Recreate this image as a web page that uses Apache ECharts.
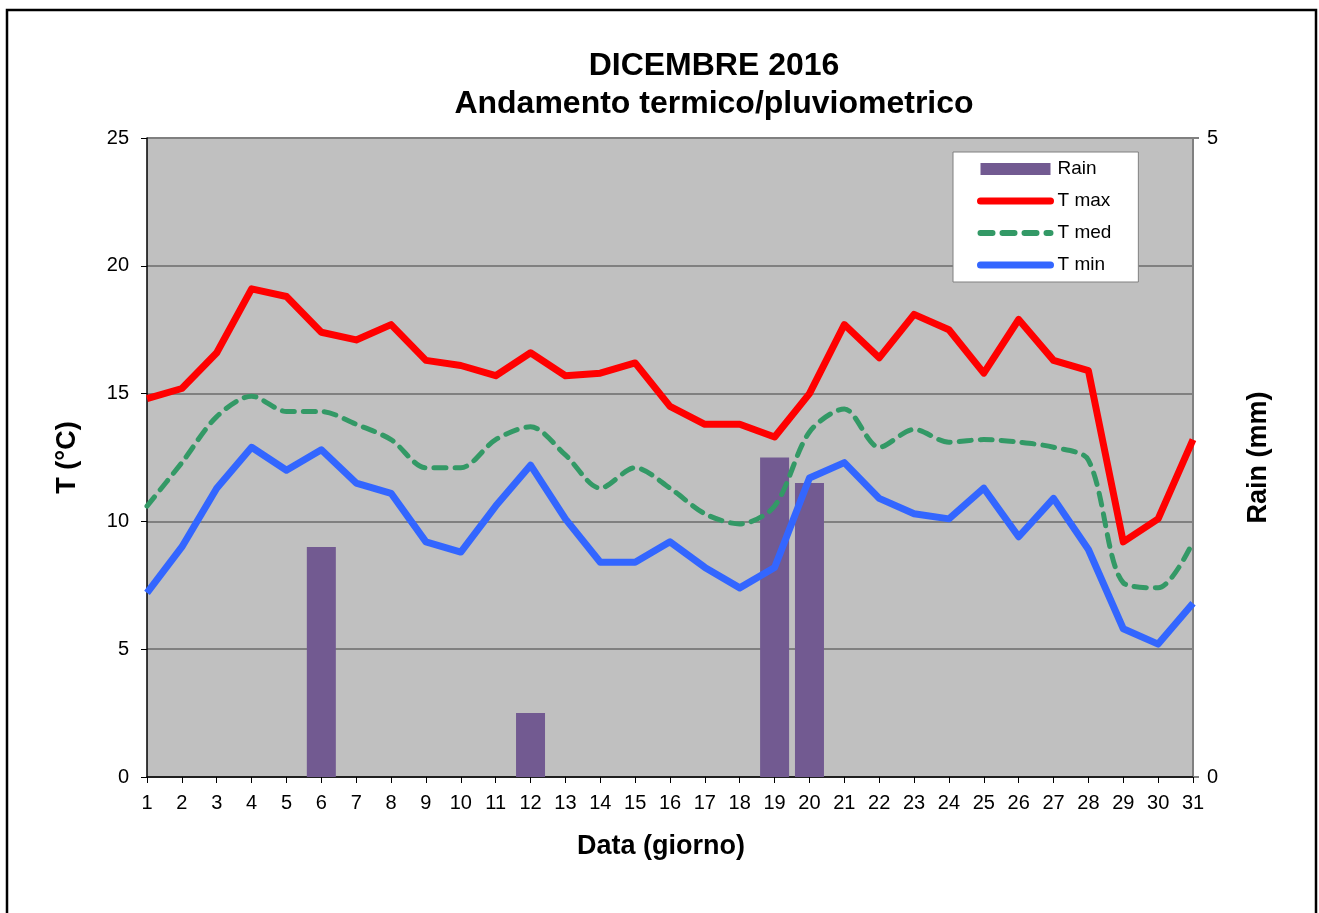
<!DOCTYPE html>
<html>
<head>
<meta charset="utf-8">
<script src="https://cdn.jsdelivr.net/npm/echarts@6/dist/echarts.min.js"></script>
<style>
html,body{margin:0;padding:0;background:#fff;}
#chart{width:1319px;height:913px;}
</style>
</head>
<body>
<div id="chart"></div>
<script>
const days = ['1','2','3','4','5','6','7','8','9','10','11','12','13','14','15','16','17','18','19','20','21','22','23','24','25','26','27','28','29','30','31'];
const tMax = [14.8,15.2,16.6,19.1,18.8,17.4,17.1,17.7,16.3,16.1,15.7,16.6,15.7,15.8,16.2,14.5,13.8,13.8,13.3,15.0,17.7,16.4,18.1,17.5,15.8,17.9,16.3,15.9,9.2,10.1,13.2];
const tMed = [10.6,12.3,14.1,14.9,14.3,14.3,13.8,13.2,12.1,12.1,13.2,13.7,12.6,11.3,12.1,11.3,10.3,9.9,10.6,13.5,14.4,12.9,13.6,13.1,13.2,13.1,12.9,12.4,7.6,7.4,9.2];
const tMin = [7.2,9.0,11.3,12.9,12.0,12.8,11.5,11.1,9.2,8.8,10.6,12.2,10.1,8.4,8.4,9.2,8.2,7.4,8.2,11.7,12.3,10.9,10.3,10.1,11.3,9.4,10.9,8.9,5.8,5.2,6.8];
const rain = [0,0,0,0,0,1.8,0,0,0,0,0,0.5,0,0,0,0,0,0,2.5,2.3,0,0,0,0,0,0,0,0,0,0,0];

const FONT = 'Liberation Sans, Arial, sans-serif';
const chart = echarts.init(document.getElementById('chart'), null, {renderer:'canvas'});
chart.setOption({
  animation: false,
  backgroundColor: '#fff',
  textStyle: {fontFamily: FONT, color: '#000'},
  graphic: [{
    type: 'rect', z: 100, silent: true,
    shape: {x: 7, y: 10, width: 1309, height: 920},
    style: {fill: 'none', stroke: '#000', lineWidth: 2.5}
  }],
  title: {
    text: 'DICEMBRE 2016\nAndamento termico/pluviometrico',
    left: 709, top: 42, textAlign: 'center',
    textStyle: {fontFamily: FONT, fontSize: 32, fontWeight: 'bold', lineHeight: 38, color: '#000'}
  },
  legend: {
    orient: 'vertical', left: 953, top: 152,
    padding: [7, 27, 7, 24], itemGap: 12,
    itemWidth: 70, itemHeight: 12,
    backgroundColor: '#fff', borderColor: '#808080', borderWidth: 1, borderRadius: 0,
    textStyle: {fontFamily: FONT, fontSize: 19, color: '#000', lineHeight: 20, padding: [0,0,0,2]},
    data: [
      {name: 'Rain', icon: 'rect'},
      {name: 'T max', itemStyle: {opacity: 0}, lineStyle: {width: 7, cap: 'round', color: '#FF0000'}},
      {name: 'T med', itemStyle: {opacity: 0}, lineStyle: {width: 6, type: [12, 10], cap: 'round', color: '#339966'}},
      {name: 'T min', itemStyle: {opacity: 0}, lineStyle: {width: 7, cap: 'round', color: '#3366FF'}}
    ]
  },
  grid: {left: 147, right: 126, top: 138, bottom: 136, show: true, backgroundColor: '#C0C0C0', borderWidth: 0},
  xAxis: {
    type: 'category', data: days, boundaryGap: false,
    name: 'Data (giorno)', nameLocation: 'middle', nameGap: 56,
    nameTextStyle: {fontFamily: FONT, fontSize: 27, fontWeight: 'bold', color: '#000', padding: [0, 18, 0, 0]},
    axisLine: {lineStyle: {color: '#000', width: 1.5}},
    axisTick: {show: true, inside: false, length: 6, alignWithLabel: true, lineStyle: {color: '#000'}},
    axisLabel: {fontFamily: FONT, fontSize: 20, color: '#000', margin: 16, interval: 0},
    splitLine: {show: false}
  },
  yAxis: [{
    type: 'value', min: 0, max: 25, interval: 5,
    name: 'T (°C)', nameLocation: 'middle', nameGap: 66, nameRotate: 90,
    nameTextStyle: {fontFamily: FONT, fontSize: 27, fontWeight: 'bold', color: '#000'},
    axisLine: {show: true, lineStyle: {color: '#000', width: 1.5}},
    axisTick: {show: true, length: 6, lineStyle: {color: '#000'}},
    axisLabel: {fontFamily: FONT, fontSize: 20, color: '#000', margin: 18},
    splitLine: {show: true, lineStyle: {color: '#808080', width: 2}}
  }, {
    type: 'value', min: 0, max: 5, interval: 5, position: 'right',
    name: 'Rain (mm)', nameLocation: 'middle', nameGap: 52, nameRotate: 90,
    nameTextStyle: {fontFamily: FONT, fontSize: 27, fontWeight: 'bold', color: '#000'},
    axisLine: {show: true, lineStyle: {color: '#808080', width: 2}},
    axisTick: {show: true, length: 6, lineStyle: {color: '#808080', width: 2}},
    axisLabel: {fontFamily: FONT, fontSize: 20, color: '#000', margin: 14},
    splitLine: {show: false}
  }],
  series: [{
    name: 'Rain', type: 'bar', yAxisIndex: 1, data: rain, barWidth: 29,
    itemStyle: {color: '#725A91'}, z: 1
  }, {
    name: 'T max', type: 'line', data: tMax, symbol: 'none', z: 3,
    lineStyle: {color: '#FF0000', width: 7, join: 'round'}, itemStyle: {color: '#FF0000'}
  }, {
    name: 'T med', type: 'line', data: tMed, symbol: 'none', smooth: 0.3, z: 3,
    lineStyle: {color: '#339966', width: 5, type: [12, 9], cap: 'round'}, itemStyle: {color: '#339966'}
  }, {
    name: 'T min', type: 'line', data: tMin, symbol: 'none', z: 3,
    lineStyle: {color: '#3366FF', width: 7, join: 'round'}, itemStyle: {color: '#3366FF'}
  }]
});
</script>
</body>
</html>
